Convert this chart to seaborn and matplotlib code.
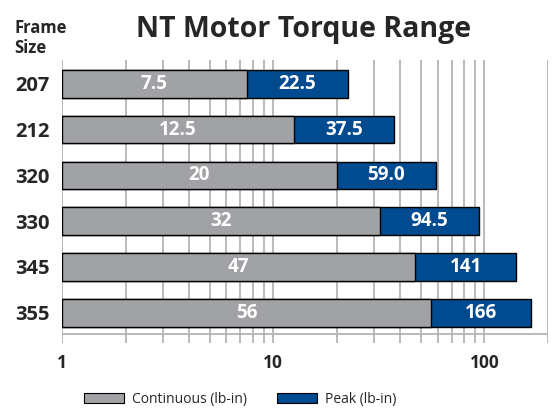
import numpy as np
import pandas as pd
import matplotlib
matplotlib.use("Agg")
import matplotlib.pyplot as plt
from matplotlib.patches import Patch
import seaborn as sns

sns.set_style("white")
plt.rcParams['font.family'] = ['Open Sans', 'DejaVu Sans']

frame_sizes = ["207", "212", "320", "330", "345", "355"]
continuous = [7.5, 12.5, 20, 32, 47, 56]
peak = [22.5, 37.5, 59.0, 94.5, 141, 166]
cont_labels = ["7.5", "12.5", "20", "32", "47", "56"]
peak_labels = ["22.5", "37.5", "59.0", "94.5", "141", "166"]

gray = "#a1a2a5"
blue = "#004a8f"
grid_gray = "#b4b4b4"

df = pd.DataFrame({"Frame": frame_sizes, "Continuous": continuous, "Peak": peak})

fig = plt.figure(figsize=(5.52, 4.09), dpi=100)
ax = fig.add_axes([62 / 552, 1 - 343 / 409, 486 / 552, 283 / 409])

# grid lines first so bars sit on top
grid_vals = list(range(1, 10)) + list(range(10, 100, 10)) + [100, 200]
for v in grid_vals:
    ax.axvline(v, color=grid_gray, lw=1.3, zorder=0)

sns.barplot(data=df, y="Frame", x="Peak", color=blue, orient="h", width=0.6,
            edgecolor="black", linewidth=1, saturation=1, ax=ax, zorder=2)
sns.barplot(data=df, y="Frame", x="Continuous", color=gray, orient="h", width=0.6,
            edgecolor="black", linewidth=1, saturation=1, ax=ax, zorder=3)

ax.set_xscale("log")
# bars start at 1, the left edge of the scale
for p in ax.patches:
    right = p.get_x() + p.get_width()
    p.set_x(1)
    p.set_width(right - 1)

ax.set_xlim(1, 200)
ax.set_ylim(5.66, -0.52)
ax.axhline(5.46, color=grid_gray, lw=1.3, zorder=1)

for i in range(len(frame_sizes)):
    ax.text(np.sqrt(continuous[i]), i, cont_labels[i], color="white", fontsize=13.5,
            fontweight="bold", ha="center", va="center", zorder=4)
    ax.text(np.sqrt(continuous[i] * peak[i]), i, peak_labels[i], color="white",
            fontsize=13.5, fontweight="bold", ha="center", va="center", zorder=4)

for s in ax.spines.values():
    s.set_visible(False)

ax.set_xticks([1, 10, 100])
ax.set_xticklabels(["1", "10", "100"], fontsize=12.5, fontweight="bold")
ax.xaxis.set_minor_locator(matplotlib.ticker.NullLocator())
ax.tick_params(axis="x", length=0, pad=8)
ax.tick_params(axis="y", length=0, pad=9)
for lab in ax.get_yticklabels():
    lab.set_fontsize(14.5)
    lab.set_fontweight("bold")
ax.set_xlabel("")
ax.set_ylabel("")

fig.text(304 / 552, 1 - 29 / 409, "NT Motor Torque Range", fontsize=20.5,
         fontweight="bold", ha="center", va="center")
fig.text(14 / 552, 1 - 38 / 409, "Frame\nSize", fontsize=12, fontweight="bold",
         ha="left", va="center", linespacing=1.2)

handles = [Patch(facecolor=gray, edgecolor="black", lw=0.8, label="Continuous (lb-in)"),
           Patch(facecolor=blue, edgecolor="black", lw=0.8, label="Peak (lb-in)")]
fig.legend(handles=handles, loc="center", bbox_to_anchor=(240 / 552, 1 - 399 / 409),
           ncol=2, frameon=False, fontsize=10, handlelength=2.9, handleheight=0.7,
           columnspacing=2.2, handletextpad=0.55)

fig.savefig("out.png", dpi=100)
